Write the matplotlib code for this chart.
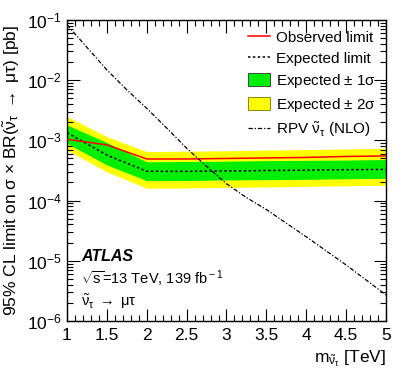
import matplotlib
matplotlib.use("Agg")
import matplotlib.pyplot as plt
import numpy as np
from matplotlib.patches import Patch
from matplotlib.lines import Line2D
from matplotlib.ticker import MultipleLocator, FuncFormatter, LogLocator

plt.rcParams.update({
    "font.family": ["Liberation Sans", "DejaVu Sans"],
    "mathtext.fontset": "custom",
    "mathtext.rm": "Liberation Sans",
    "mathtext.it": "Liberation Sans",   # upright greek like the ROOT symbol font
    "mathtext.bf": "Liberation Sans:bold",
    "mathtext.sf": "Liberation Sans",
})

# --- data ---
mass = [1.0, 1.5, 2.0, 2.5, 3.0, 3.5, 4.0, 4.5, 5.0]
observed = [1.04e-3, 8.4e-4, 4.9e-4, 4.9e-4, 5.0e-4, 5.1e-4, 5.2e-4, 5.4e-4, 5.5e-4]
expected = [1.34e-3, 5.7e-4, 3.06e-4, 3.05e-4, 3.1e-4, 3.15e-4, 3.2e-4, 3.25e-4, 3.3e-4]
exp_1s_lo = [8.9e-4, 3.9e-4, 2.14e-4, 2.15e-4, 2.2e-4, 2.22e-4, 2.25e-4, 2.3e-4, 2.34e-4]
exp_1s_hi = [1.8e-3, 9.2e-4, 4.4e-4, 4.45e-4, 4.5e-4, 4.6e-4, 4.65e-4, 4.7e-4, 4.8e-4]
exp_2s_lo = [6.9e-4, 3.0e-4, 1.6e-4, 1.62e-4, 1.65e-4, 1.68e-4, 1.72e-4, 1.76e-4, 1.8e-4]
exp_2s_hi = [2.5e-3, 1.15e-3, 6.5e-4, 6.6e-4, 6.7e-4, 6.9e-4, 7.0e-4, 7.2e-4, 7.4e-4]

rpv_mass = [1.0, 1.25, 1.5, 1.75, 2.0, 2.25, 2.5, 2.75, 3.0, 3.25, 3.5, 3.75, 4.0, 4.25, 4.5, 4.75, 5.0]
rpv_xsec = [8.3e-2, 3.5e-2, 1.48e-2, 6.9e-3, 3.4e-3, 1.6e-3, 7.4e-4, 3.7e-4, 1.9e-4,
            1.12e-4, 7.1e-5, 4.2e-5, 2.5e-5, 1.46e-5, 8.5e-6, 4.8e-6, 2.7e-6]

fig = plt.figure(figsize=(4.07, 3.83), dpi=100)
ax = fig.add_axes([0.1646, 0.162, 0.7838, 0.786])

ax.fill_between(mass, exp_2s_lo, exp_2s_hi, color="#ffff00", lw=0, zorder=1)
ax.fill_between(mass, exp_1s_lo, exp_1s_hi, color="#00ee00", lw=0, zorder=2)
ax.plot(mass, expected, color="black", ls=(0, (1.6, 1.6)), lw=1.1, zorder=3)
ax.plot(mass, observed, color="red", lw=1.1, zorder=4)
ax.plot(rpv_mass, rpv_xsec, color="black", ls=(0, (3.5, 1.5, 1, 1.5)), lw=0.9, zorder=5)

ax.set_yscale("log")
ax.set_xlim(1, 5)
ax.set_ylim(1e-6, 1e-1)

ax.xaxis.set_major_locator(MultipleLocator(0.5))
ax.xaxis.set_minor_locator(MultipleLocator(0.1))
ax.xaxis.set_major_formatter(FuncFormatter(lambda v, p: f"{v:g}"))
ax.yaxis.set_minor_locator(LogLocator(base=10, subs=np.arange(2, 10), numticks=20))
ax.tick_params(which="both", direction="in", top=True, right=True, labelsize=12.5, width=0.8)
ax.tick_params(which="major", length=9)
ax.tick_params(which="minor", length=4.5)
ax.tick_params(axis="x", pad=5)
for s in ax.spines.values():
    s.set_linewidth(1.0)

ax.set_ylabel(r"95% CL limit on $\sigma$ $\times$ BR($\tilde{\nu}_{\tau}$ $\rightarrow$ $\mu\tau$) [pb]",
              fontsize=12.5, labelpad=4)
ax.set_xlabel(r"m$_{\tilde{\nu}_{\tau}}$ [TeV]", fontsize=12.5, loc="right", labelpad=4)

ax.text(0.045, 0.215, "ATLAS", transform=ax.transAxes, fontsize=11.5,
        fontweight="bold", style="italic", va="center")
ax.text(0.045, 0.14, r"$\sqrt{\rm s}$=13 TeV, 139 fb$^{\rm -1}$", transform=ax.transAxes,
        fontsize=10.5, va="center")
ax.text(0.045, 0.065, r"$\tilde{\nu}_{\tau}$ $\rightarrow$ $\mu\tau$", transform=ax.transAxes,
        fontsize=10.5, va="center")

handles = [
    Line2D([], [], color="red", lw=1.1),
    Line2D([], [], color="black", ls=(0, (1.6, 1.6)), lw=1.1),
    Patch(facecolor="#00ee00", edgecolor="#333333", lw=0.6),
    Patch(facecolor="#ffff00", edgecolor="#777700", lw=0.6),
    Line2D([], [], color="black", ls=(0, (3.5, 1.5, 1, 1.5)), lw=0.9),
]
labels = ["Observed limit", "Expected limit", r"Expected $\pm$ 1$\sigma$",
          r"Expected $\pm$ 2$\sigma$", r"RPV $\tilde{\nu}_{\tau}$ (NLO)"]
ax.legend(handles, labels, loc="upper right", frameon=False, fontsize=11,
          handlelength=1.4, handleheight=0.95, handletextpad=0.4,
          labelspacing=0.4, borderaxespad=0.25)

fig.savefig("out.png", dpi=100)
